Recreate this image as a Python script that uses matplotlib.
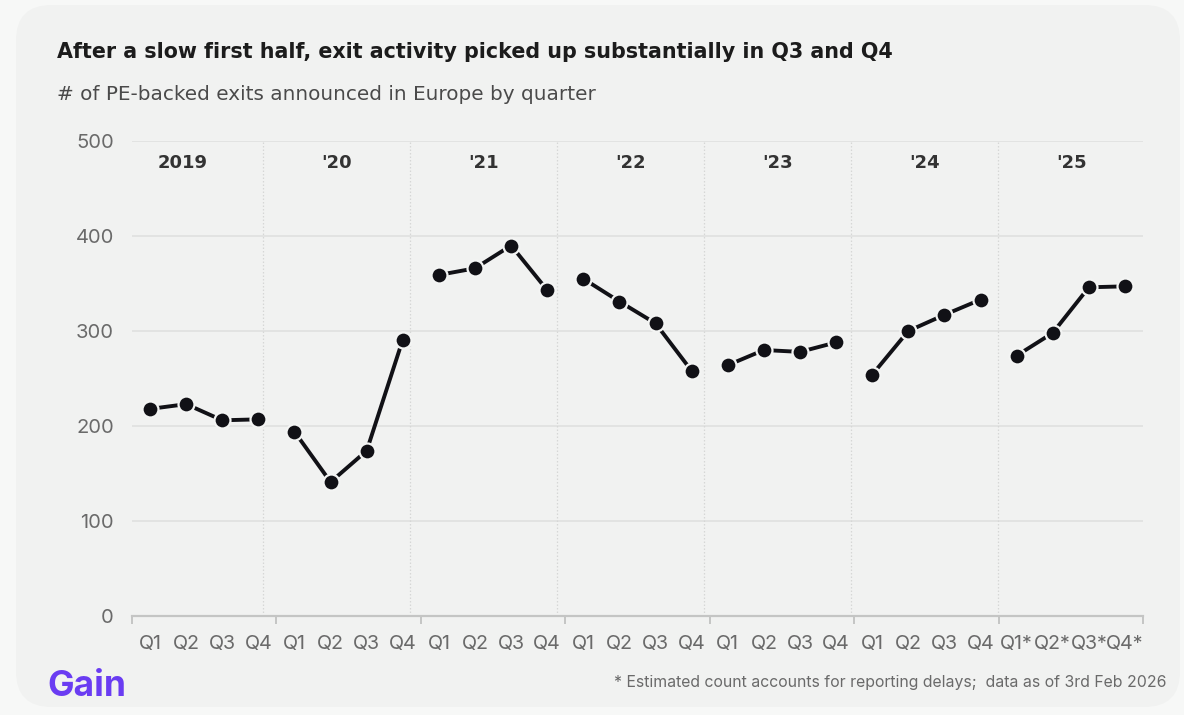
import matplotlib
matplotlib.use("Agg")
import matplotlib.pyplot as plt
from matplotlib.patches import FancyBboxPatch
import numpy as np

# ---- data ----
years = ["2019", "'20", "'21", "'22", "'23", "'24", "'25"]
quarter_labels = ["Q1", "Q2", "Q3", "Q4"]
quarter_labels_est = ["Q1*", "Q2*", "Q3*", "Q4*"]
exits_2019 = [218, 223, 206, 207]
exits_2020 = [194, 141, 174, 291]
exits_2021 = [359, 366, 390, 343]
exits_2022 = [355, 331, 308, 258]
exits_2023 = [264, 280, 278, 288]
exits_2024 = [254, 300, 317, 333]
exits_2025 = [274, 298, 346, 347]
series = [exits_2019, exits_2020, exits_2021, exits_2022, exits_2023, exits_2024, exits_2025]
y_ticks = [0, 100, 200, 300, 400, 500]

title = "After a slow first half, exit activity picked up substantially in Q3 and Q4"
subtitle = "# of PE-backed exits announced in Europe by quarter"
footnote = "* Estimated count accounts for reporting delays;  data as of 3rd Feb 2026"

FONT = ["Inter", "Liberation Sans", "DejaVu Sans"]
plt.rcParams['font.family'] = FONT

W, H = 1184, 715
fig = plt.figure(figsize=(W / 100, H / 100), dpi=100)
fig.patch.set_facecolor("#f7f8f7")

# card background
card = FancyBboxPatch((16 / W, 8 / H), (1180 - 16) / W, (710 - 8) / H,
                      boxstyle="round,pad=0,rounding_size=0.03",
                      transform=fig.transFigure, facecolor="#f1f2f1",
                      edgecolor="none", zorder=-10, mutation_aspect=W / H)
fig.add_artist(card)

ax = fig.add_axes([132 / W, 1 - 616 / H, (1143 - 132) / W, (616 - 141) / H])
ax.set_facecolor("none")
ax.set_zorder(5)

n_years = len(years)
ax.set_xlim(-0.5, n_years * 4 - 0.5)
ax.set_ylim(0, 500)

# horizontal grid
for yv in y_ticks[1:]:
    ax.axhline(yv, color="#dedfde", lw=1.1, zorder=1)

# year dividers (dotted) and year labels
div_step = 4.068
div_start = 3.14
dividers = [div_start + (k - 1) * div_step for k in range(1, n_years)]
for d in dividers:
    ax.plot([d, d], [0, 500], color="#d6d7d6", lw=0.9, ls=(0, (1.2, 1.6)), zorder=1)
edges = [div_start - div_step] + dividers + [dividers[-1] + div_step]
for k, yr in enumerate(years):
    cx = (edges[k] + edges[k + 1]) / 2
    if k == 0:
        cx -= 0.2
    ax.text(cx, 477, yr, ha="center", va="center", fontsize=13,
            fontweight="bold", color="#333333", zorder=3,
            family=["DejaVu Sans"])

# lines per year
for k, vals in enumerate(series):
    xs = np.arange(4) + 4 * k
    ax.plot(xs, vals, color="#111116", lw=2.8, zorder=4, solid_capstyle="butt")
    ax.plot(xs, vals, ls="none", marker="o", ms=11.5, mfc="#111116",
            mec="#f4f5f4", mew=1.6, zorder=5)

# axes styling
for s in ["top", "right", "left"]:
    ax.spines[s].set_visible(False)
ax.spines["bottom"].set_color("#c4c5c4")
ax.spines["bottom"].set_linewidth(1.6)
ax.spines["bottom"].set_zorder(2)

ax.set_yticks(y_ticks)
ax.set_yticklabels([str(v) for v in y_ticks])
ax.tick_params(axis="y", length=0, pad=13, labelsize=14.5, labelcolor="#6a6a6a")

# major ticks at year boundaries, labels as minor ticks
ax.set_xticks([4 * k - 0.5 for k in range(n_years + 1)])
ax.set_xticklabels([])
ax.tick_params(axis="x", which="major", length=6, width=1.4, color="#c4c5c4", direction="out")
minor_pos = np.arange(n_years * 4)
minor_lab = quarter_labels * (n_years - 1) + quarter_labels_est
ax.set_xticks(minor_pos, minor=True)
ax.set_xticklabels(minor_lab, minor=True)
ax.tick_params(axis="x", which="minor", length=0, pad=14, labelsize=14.2, labelcolor="#6a6a6a")

# texts
fig.text(57 / W, 1 - 52 / H, title, fontsize=14.9, fontweight="bold",
         color="#1c1c1c", ha="left", va="center", family=["DejaVu Sans"])
fig.text(57 / W, 1 - 94 / H, subtitle, fontsize=14.4, color="#4a4a4a",
         ha="left", va="center", family=["DejaVu Sans"])
fig.text(1167 / W, 1 - 682 / H, footnote, fontsize=11.4, color="#6a6a6a",
         ha="right", va="center")
fig.text(47 / W, 1 - 686 / H, "Gain", fontsize=25.5, fontweight="bold",
         color="#6a3cf2", ha="left", va="center")

fig.savefig("out.png", dpi=100, facecolor=fig.get_facecolor())
